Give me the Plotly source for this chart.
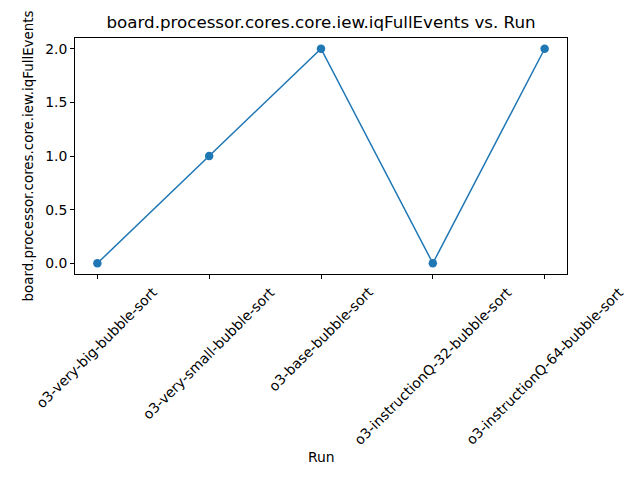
import plotly.graph_objects as go

runs = ["o3-very-big-bubble-sort", "o3-very-small-bubble-sort", "o3-base-bubble-sort",
        "o3-instructionQ-32-bubble-sort", "o3-instructionQ-64-bubble-sort"]
values = [0, 1, 2, 0, 2]
ytick_vals = [0.0, 0.5, 1.0, 1.5, 2.0]

metric = "board.processor.cores.core.iew.iqFullEvents"
font = "DejaVu Sans"

fig = go.Figure()
fig.add_trace(go.Scatter(
    x=list(range(len(runs))), y=values, mode="lines+markers",
    line=dict(color="#1f77b4", width=1.5),
    marker=dict(color="#1f77b4", size=8.5),
    showlegend=False,
))

annotations = []
for i, r in enumerate(runs):
    annotations.append(dict(
        x=i, xref="x", y=0, yref="paper", yshift=-7,
        text=r, showarrow=False, textangle=-45,
        xanchor="center", yanchor="top",
        font=dict(family=font, size=13.9, color="black"),
    ))
annotations.append(dict(
    x=0.5, xref="paper", y=0, yref="paper", yshift=-183,
    text="Run", showarrow=False, xanchor="center", yanchor="middle",
    font=dict(family=font, size=13.9, color="black"),
))

fig.update_layout(
    width=640, height=480,
    margin=dict(l=67, r=81, t=30, b=214),
    paper_bgcolor="white", plot_bgcolor="white",
    title=dict(text=metric + " vs. Run", x=0.5, xanchor="center",
               xref="paper", y=1 - 14 / 480, yanchor="middle",
               font=dict(family=font, size=16.7, color="black")),
    font=dict(family=font, size=13.9, color="black"),
    annotations=annotations,
)
fig.update_xaxes(
    range=[-0.2, 4.2], tickvals=list(range(len(runs))), showticklabels=False,
    ticks="outside", ticklen=4, tickcolor="black",
    showline=True, linecolor="black", linewidth=1, mirror=True,
    showgrid=False, zeroline=False,
)
fig.update_yaxes(
    range=[-0.1, 2.1], tickvals=ytick_vals, tickformat=".1f",
    ticks="outside", ticklen=4, tickcolor="black",
    showline=True, linecolor="black", linewidth=1, mirror=True,
    showgrid=False, zeroline=False,
    title=dict(text=metric, standoff=8, font=dict(family=font, size=13.4)),
)

fig.write_html("out.html")
